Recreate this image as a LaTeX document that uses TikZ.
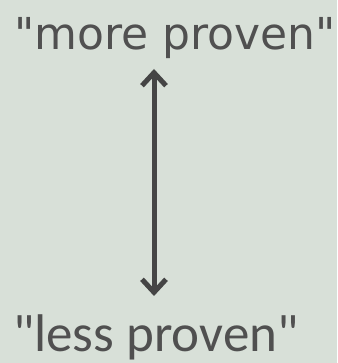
\documentclass[tikz,border=0pt]{standalone}
\usepackage{fontspec}
\usetikzlibrary{arrows.meta}
\newfontfamily\topfont{DejaVu Sans}
\newfontfamily\botfont{Carlito}
\definecolor{bgcol}{HTML}{D8E0D8}
\definecolor{txtcol}{HTML}{505050}
\definecolor{arrcol}{HTML}{454545}
\begin{document}
\begin{tikzpicture}[x=1pt,y=1pt]
\fill[bgcol] (0,0) rectangle (337,363);
\useasboundingbox (0,0) rectangle (337,363);
\node[anchor=base west,inner sep=0pt,text=txtcol,font=\topfont\fontsize{44}{50}\selectfont] (more) at (14,313) {"more proven"};
\node[anchor=base west,inner sep=0pt,text=txtcol,font=\botfont\fontsize{53}{60}\selectfont] (less) at (13,11) {"less proven"};
\coordinate (upper) at (154,294);
\coordinate (lower) at (154,67);
\draw[arrcol,line width=5pt,{Straight Barb[length=13pt,width=24pt]}-{Straight Barb[length=13pt,width=24pt]}] (upper) -- (lower);
\end{tikzpicture}
\end{document}
